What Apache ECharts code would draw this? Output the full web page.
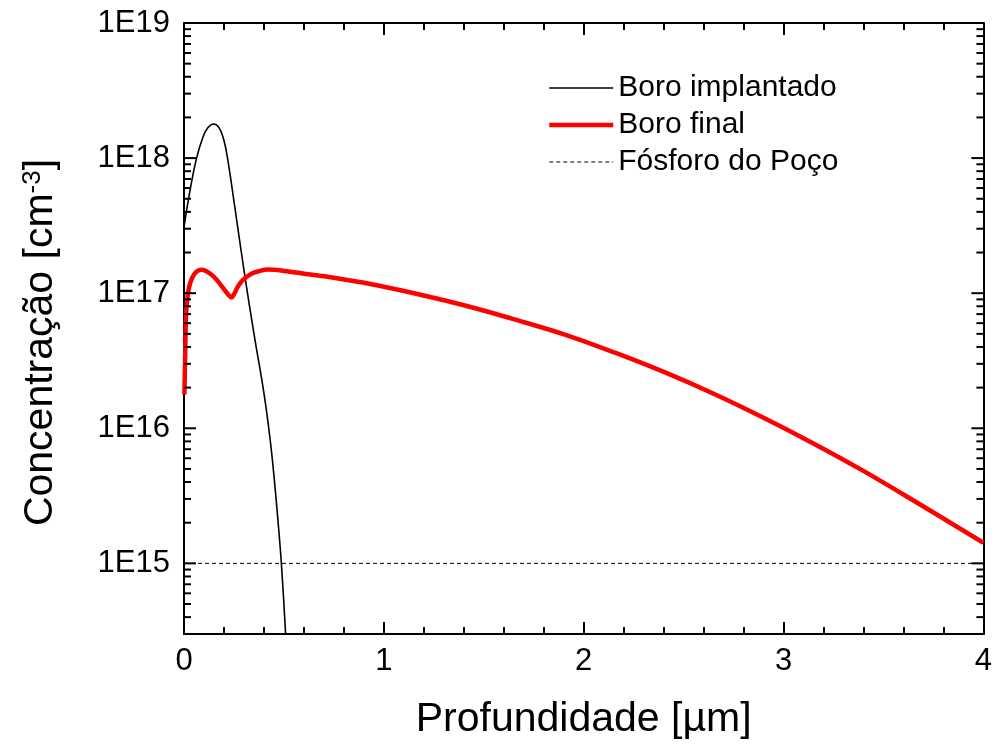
<!DOCTYPE html>
<html>
<head>
<meta charset="utf-8">
<script src="https://cdn.jsdelivr.net/npm/echarts@6/dist/echarts.min.js"></script>
<style>
html,body{margin:0;padding:0;background:#fff;}
#chart{width:995px;height:747px;}
</style>
</head>
<body>
<div id="chart"></div>
<script>
// ---- data (depth in µm, concentration in cm^-3) ----
var boroImplantadoX = [0, 0.03, 0.063, 0.096, 0.12, 0.148, 0.175, 0.20, 0.22, 0.254, 0.30, 0.35, 0.40, 0.43, 0.45, 0.47, 0.487, 0.508, 0.52];
var boroImplantadoY = [3.09e17, 5.75e17, 1.0e18, 1.445e18, 1.683e18, 1.79e18, 1.679e18, 1.349e18, 9.55e17, 4.37e17, 1.48e17, 5.01e16, 1.82e16, 8.51e15, 4.47e15, 2.09e15, 1.01e15, 3.09e14, 1.38e14];

var boroFinalX = [0.002, 0.006, 0.010, 0.016, 0.025, 0.040, 0.060, 0.085, 0.110, 0.135, 0.163, 0.196, 0.225, 0.238, 0.250, 0.270, 0.296, 0.340, 0.379, 0.420, 0.500, 0.611, 0.750, 0.927, 1.173, 1.420, 1.667, 1.913, 2.160, 2.407, 2.653, 2.900, 3.147, 3.393, 3.640, 4.000];
var boroFinalY = [1.78e16, 3.55e16, 6.8e16, 8.9e16, 1.10e17, 1.29e17, 1.43e17, 1.49e17, 1.46e17, 1.38e17, 1.26e17, 1.09e17, 9.6e16, 9.3e16, 9.8e16, 1.12e17, 1.26e17, 1.40e17, 1.46e17, 1.496e17, 1.462e17, 1.387e17, 1.30e17, 1.175e17, 9.82e16, 8.0e16, 6.31e16, 4.90e16, 3.61e16, 2.59e16, 1.795e16, 1.197e16, 7.76e15, 4.90e15, 2.98e15, 1.42e15];

var fosforoX = [0, 4];
var fosforoY = [1e15, 1e15];

var yMajorTicks = [1e15, 1e16, 1e17, 1e18, 1e19];
var yMinorMultipliers = [2, 3, 4, 5, 6, 7, 8, 9];
var yDecades = [1e14, 1e15, 1e16, 1e17, 1e18];

var yMin = 3e14, yMax = 1e19;
var xMin = 0, xMax = 4;

function zip(xs, ys){ return xs.map(function(x, i){ return [x, ys[i]]; }); }

var yMinorTicks = [];
yDecades.forEach(function(d){
  yMinorMultipliers.forEach(function(m){
    var v = m * d;
    if (v >= yMin && v <= yMax) yMinorTicks.push(v);
  });
});

var FONT = '"Liberation Sans", Arial, Helvetica, sans-serif';

function logLabel(v){
  var e = Math.log10(v);
  if (Math.abs(e - Math.round(e)) < 1e-6) return '1E' + Math.round(e);
  return '';
}

var chart = echarts.init(document.getElementById('chart'), null, {renderer: 'canvas'});

var axisLine = {show: true, onZero: false, lineStyle: {color: '#000', width: 2}};

chart.setOption({
  animation: false,
  backgroundColor: '#fff',
  grid: {left: 184, right: 8, top: 23, bottom: 113, containLabel: false},
  legend: {
    data: [
      {name: 'Boro implantado', lineStyle: {width: 1.6, color: '#000'}},
      {name: 'Boro final', lineStyle: {width: 4.5, color: '#ff0000'}},
      {name: 'Fósforo do Poço', lineStyle: {width: 1, color: '#000', type: [4, 3]}}
    ],
    orient: 'vertical',
    left: 542,
    top: 68,
    itemWidth: 64,
    itemHeight: 20,
    itemGap: 7,
    itemStyle: {opacity: 0},
    textStyle: {fontFamily: FONT, fontSize: 30, color: '#000'}
  },
  xAxis: [
    {
      type: 'value', min: xMin, max: xMax, interval: 1, position: 'bottom',
      axisLine: axisLine,
      axisTick: {show: true, inside: true, length: 12, lineStyle: {color: '#000', width: 2}},
      minorTick: {show: true, splitNumber: 5, length: 7, lineStyle: {color: '#000', width: 2}},
      splitLine: {show: false},
      axisLabel: {fontFamily: FONT, fontSize: 31, color: '#000', margin: 12},
      name: 'Profundidade [µm]',
      nameLocation: 'middle',
      nameGap: 65,
      nameTextStyle: {fontFamily: FONT, fontSize: 41, color: '#000'}
    },
    {
      type: 'value', min: xMin, max: xMax, interval: 1, position: 'top',
      axisLine: axisLine,
      axisTick: {show: true, inside: true, length: 12, lineStyle: {color: '#000', width: 2}},
      minorTick: {show: true, splitNumber: 5, length: 7, lineStyle: {color: '#000', width: 2}},
      splitLine: {show: false},
      axisLabel: {show: false}
    }
  ],
  yAxis: [
    {
      type: 'log', logBase: 10, min: yMin, max: yMax, position: 'left',
      axisLine: axisLine,
      axisTick: {show: false},
      splitLine: {show: false},
      minorSplitLine: {show: false},
      axisLabel: {fontFamily: FONT, fontSize: 31, color: '#000', margin: 14, formatter: logLabel},
      name: 'Concentração [cm{sup|-3}]',
      nameLocation: 'middle',
      nameRotate: 90,
      nameGap: 123,
      nameTextStyle: {
        fontFamily: FONT, fontSize: 41, color: '#000',
        padding: [0, 28, 0, 0],
        rich: {sup: {fontFamily: FONT, fontSize: 26, color: '#000', verticalAlign: 'top', lineHeight: 41}}
      }
    },
    {
      type: 'log', logBase: 10, min: yMin, max: yMax, position: 'right',
      axisLine: axisLine,
      axisTick: {show: false},
      splitLine: {show: false},
      axisLabel: {show: false}
    }
  ],
  series: [
    {
      name: 'Boro implantado', type: 'line', xAxisIndex: 0, yAxisIndex: 0,
      data: zip(boroImplantadoX, boroImplantadoY),
      symbol: 'none', smooth: 0.4, clip: true,
      lineStyle: {color: '#000', width: 1.6},
      itemStyle: {color: '#000'},
      z: 3
    },
    {
      name: 'Boro final', type: 'line', xAxisIndex: 0, yAxisIndex: 0,
      data: zip(boroFinalX, boroFinalY),
      symbol: 'none', smooth: 0.35, clip: true,
      lineStyle: {color: '#ff0000', width: 4.5},
      itemStyle: {color: '#ff0000'},
      z: 4
    },
    {
      name: 'Fósforo do Poço', type: 'line', xAxisIndex: 0, yAxisIndex: 0,
      data: zip(fosforoX, fosforoY),
      symbol: 'none', clip: true,
      lineStyle: {color: '#000', width: 1, type: [4, 3]},
      itemStyle: {color: '#000'},
      z: 2
    },
    {
      type: 'custom', xAxisIndex: 0, yAxisIndex: 0, silent: true, clip: false, z: 10,
      data: yMajorTicks.map(function(v){ return [xMin, v, 12]; }).concat(
            yMinorTicks.map(function(v){ return [xMin, v, 7]; })),
      renderItem: function(params, api){
        var v = api.value(1), len = api.value(2);
        var l = api.coord([xMin, v]);
        var r = api.coord([xMax, v]);
        return {type: 'group', children: [
          {type: 'line', shape: {x1: l[0], y1: l[1], x2: l[0] + len, y2: l[1]}, style: {stroke: '#000', lineWidth: 2}},
          {type: 'line', shape: {x1: r[0], y1: r[1], x2: r[0] - len, y2: r[1]}, style: {stroke: '#000', lineWidth: 2}}
        ]};
      }
    }
  ]
});
</script>
</body>
</html>
